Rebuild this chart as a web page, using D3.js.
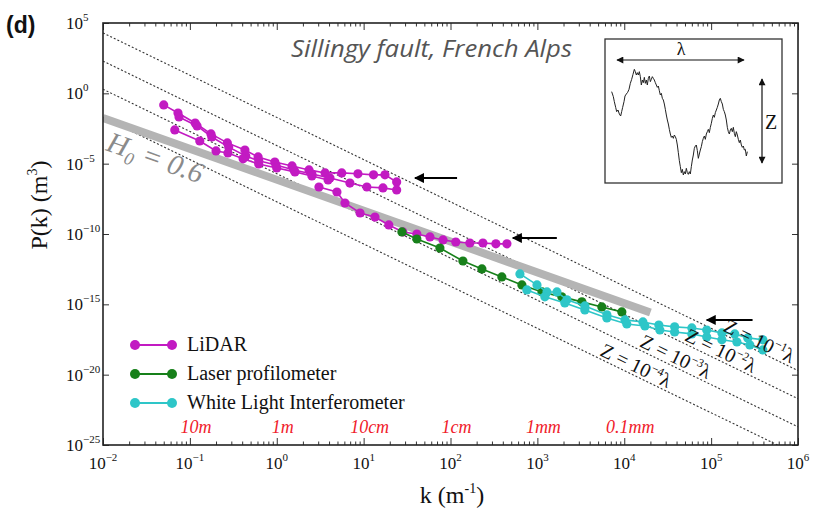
<!DOCTYPE html>
<html><head><meta charset="utf-8">
<script src="https://cdn.jsdelivr.net/npm/d3@7"></script>
<style>body{margin:0;background:#fff} svg{display:block}</style>
</head><body><svg id="c" width="816" height="510"></svg>
<script>
// ---------------- data ----------------
const lidar1K = [0.050, 0.073, 0.115, 0.175, 0.27, 0.43, 0.61, 0.95, 1.5, 2.35, 3.6, 5.6, 8.6, 13, 17.6, 24];
const lidar1P = [0.15, 0.040, 7.8e-3, 1.3e-3, 3.0e-4, 9.4e-5, 3.0e-5, 1.3e-5, 6.9e-6, 3.6e-6, 2.2e-6, 2.2e-6, 1.9e-6, 1.6e-6, 1.6e-6, 5.0e-7];
const lidar2K = [0.075, 0.121, 0.179, 0.28, 0.44, 0.62, 0.98, 1.58, 2.54, 4.1, 6.95, 10.9, 16.7, 24];
const lidar2P = [0.021, 4.8e-3, 7.9e-4, 1.5e-4, 3.5e-5, 1.6e-5, 8.1e-6, 3.6e-6, 1.85e-6, 9.6e-7, 4.2e-7, 2.2e-7, 1.9e-7, 1.35e-7];
const lidar3K = [0.067, 0.13, 0.20, 0.274, 0.41, 0.62, 1.0, 1.62, 2.54, 3.9];
const lidar3P = [2.5e-3, 4.1e-4, 8.0e-5, 5.8e-5, 2.2e-5, 9.5e-6, 4.9e-6, 2.6e-6, 1.34e-6, 6.9e-7];
const lidar4K = [3.06, 4.93, 6.1, 9.1, 13.5, 19.5, 28.3, 41, 58, 82, 115, 167, 236, 333, 446];
const lidar4P = [2.2e-7, 9.7e-8, 1.6e-8, 3.1e-9, 1.6e-9, 4.4e-10, 1.4e-10, 1.0e-10, 6.2e-11, 3.8e-11, 2.7e-11, 2.3e-11, 2.3e-11, 2.0e-11, 2.0e-11];
const laserK = [27.6, 41, 75.5, 139, 230, 390, 664, 1130, 1910, 3250, 5520, 9380];
const laserP = [1.4e-10, 4.4e-11, 1.0e-11, 1.2e-12, 3.3e-13, 8.9e-14, 2.4e-14, 7.6e-15, 3.4e-15, 1.5e-15, 6.5e-16, 2.9e-16];
const wli1K = [630, 990, 1290, 1680, 2190, 3520, 6310, 1.02e4, 1.64e4, 2.5e4, 3.8e4, 6.0e4, 8.9e4, 1.33e5, 1.87e5, 2.64e5, 3.94e5];
const wli1P = [1.45e-13, 2.4e-14, 7.6e-15, 7.6e-15, 2.1e-15, 7.7e-16, 1.8e-16, 7.8e-17, 5.6e-17, 3.4e-17, 2.5e-17, 2.1e-17, 1.5e-17, 9.3e-18, 7.9e-18, 4.1e-18, 3.0e-18];
const wli2K = [757, 1220, 2070, 3520, 6310, 1.07e4, 1.73e4, 2.57e4, 3.8e4, 6.0e4, 8.9e4, 1.33e5, 1.98e5, 2.79e5, 3.94e5];
const wli2P = [1.05e-14, 3.4e-15, 1.26e-15, 4.0e-16, 1.08e-16, 4.0e-17, 2.9e-17, 1.5e-17, 1.09e-17, 7.9e-18, 4.8e-18, 3.0e-18, 2.1e-18, 1.3e-18, 5.7e-19];

// reference lines Z = 10^n lambda  (endpoints k, P)
const zExp = ["\u22121", "\u22122", "\u22123", "\u22124"];
const zLineK = [1e-2, 1e6];
const zLineP0 = [1.95e4, 1.95e2, 1.95, 1.95e-2];      // P at k = 1e-2
const zLineP1 = [1.95e-20, 1.95e-22, 1.95e-24, 1.95e-26]; // P at k = 1e6
const zLabelK = [3.2e5, 1.16e5, 3.5e4, 1.22e4];

// H0 = 0.6 band
const hBandK = [1e-2, 2e4];
const hBandP = [1.78e-2, 2.6e-16];

// arrows (head k, tail k, P)
const arrowHeadK = [39, 522, 8.9e4];
const arrowTailK = [119, 1675, 3.0e5];
const arrowP = [9.5e-7, 5.2e-11, 7.8e-17];

// axes
const xMajor = [1e-2, 1e-1, 1e0, 1e1, 1e2, 1e3, 1e4, 1e5, 1e6];
const xExp = ["\u22122", "\u22121", "0", "1", "2", "3", "4", "5", "6"];
const yMajor = [1e5, 1e0, 1e-5, 1e-10, 1e-15, 1e-20, 1e-25];
const yExp = ["5", "0", "\u22125", "\u221210", "\u221215", "\u221220", "\u221225"];
const lenLabels = ["10m", "1m", "10cm", "1cm", "1mm", "0.1mm"];
const lenK = [1e-1, 1e0, 1e1, 1e2, 1e3, 1e4];

const legendNames = ["LiDAR", "Laser profilometer", "White Light Interferometer"];

// inset profile (arbitrary units: position, depth)
const profT = [65,70,73,77,80,84,88,92,95,98,102,105,109,113,117,121,125,129,133,136,139,142,145,148,151,154,157,160,163,166,169,172,175,178,181,184,187,190,193,196,199,202,205,208,211,214,217,220,223,226,229,232,235,238,241,244,247,250,253,256,259,262,265,268,271,274,277,280,283,286,289,292,295,298,301,304,307,310,313,316,319,322,325,328,331,334,337,340,343,346,349,352,355,358,361,364,367,370,373,376,379,382,385,388,391,394,397,400,403,406,409,412,415,418,421,424,427,430,433,436,439,442,445,448,451,454,457,460,463,466,469,472];
const profD = [185,200,215,232,245,240,252,258,245,232,215,198,192,187,178,160,148,133,118,125,135,128,135,125,140,165,150,158,142,160,150,165,145,138,155,148,140,145,150,158,165,172,168,182,195,190,205,210,222,238,255,270,282,298,312,322,318,325,315,320,328,345,368,392,410,428,418,435,425,432,415,428,433,425,432,410,390,375,355,348,345,362,385,372,360,350,335,325,318,328,312,305,298,308,292,280,265,255,262,248,240,232,222,210,205,215,222,238,245,255,270,292,305,312,300,295,305,292,310,320,305,315,328,338,330,345,352,348,360,358,378,365];

// ---------------- drawing ----------------
const svg = d3.select("#c");
const L = 103, R = 798, T = 23, B = 445;
const x = d3.scaleLog().domain([1e-2, 1e6]).range([L, R]);
const y = d3.scaleLog().domain([1e-25, 1e5]).range([B, T]);
const serif = "'Liberation Serif','Times New Roman',serif";
const C = {lidar: "#c21ac2", laser: "#17801a", wli: "#2ec6c8"};

svg.append("defs").append("clipPath").attr("id", "clip")
  .append("rect").attr("x", L).attr("y", T).attr("width", R - L).attr("height", B - T);
const defs = svg.select("defs");
defs.append("marker").attr("id", "ah").attr("viewBox", "0 0 10 10").attr("refX", 9).attr("refY", 5)
  .attr("markerWidth", 6).attr("markerHeight", 5).attr("orient", "auto-start-reverse").attr("markerUnits", "strokeWidth")
  .append("path").attr("d", "M0,0 L10,5 L0,10 Z").attr("fill", "#000");
defs.append("marker").attr("id", "ahs").attr("viewBox", "0 0 10 10").attr("refX", 9).attr("refY", 5)
  .attr("markerWidth", 8).attr("markerHeight", 7).attr("orient", "auto-start-reverse").attr("markerUnits", "userSpaceOnUse")
  .append("path").attr("d", "M0,0 L10,5 L0,10 Z").attr("fill", "#111");

const plot = svg.append("g").attr("clip-path", "url(#clip)");

// dotted reference lines
zLineP0.forEach((p0, i) => {
  plot.append("line")
    .attr("x1", x(zLineK[0])).attr("y1", y(p0))
    .attr("x2", x(zLineK[1])).attr("y2", y(zLineP1[i]))
    .attr("stroke", "#333").attr("stroke-width", 1.1).attr("stroke-dasharray", "2,2");
});

// H0 band
plot.append("line")
  .attr("x1", x(hBandK[0])).attr("y1", y(hBandP[0]))
  .attr("x2", x(hBandK[1])).attr("y2", y(hBandP[1]))
  .attr("stroke", "#b4b4b4").attr("stroke-width", 8);

// series
const series = [
  {k: lidar1K, p: lidar1P, c: C.lidar},
  {k: lidar2K, p: lidar2P, c: C.lidar},
  {k: lidar3K, p: lidar3P, c: C.lidar},
  {k: lidar4K, p: lidar4P, c: C.lidar},
  {k: laserK, p: laserP, c: C.laser},
  {k: wli1K, p: wli1P, c: C.wli},
  {k: wli2K, p: wli2P, c: C.wli},
];
const line = d3.line().x(d => x(d[0])).y(d => y(d[1]));
series.forEach(s => {
  const pts = s.k.map((k, i) => [k, s.p[i]]);
  plot.append("path").attr("d", line(pts)).attr("fill", "none").attr("stroke", s.c).attr("stroke-width", 1.6);
  plot.selectAll(null).data(pts).enter().append("circle")
    .attr("cx", d => x(d[0])).attr("cy", d => y(d[1])).attr("r", 4.6).attr("fill", s.c);
});

// Z labels
zLabelK.forEach((k, i) => {
  const slope = (Math.log10(zLineP1[i]) - Math.log10(zLineP0[i])) / (Math.log10(zLineK[1]) - Math.log10(zLineK[0]));
  const p = zLineP0[i] * Math.pow(k / zLineK[0], slope);
  const k2 = k * 10, p2 = p * Math.pow(10, slope);
  const ang = Math.atan2(y(p2) - y(p), x(k2) - x(k)) * 180 / Math.PI;
  const t = svg.append("text").attr("transform", `translate(${x(k)},${y(p)}) rotate(${ang})`)
    .attr("y", -3).attr("text-anchor", "middle").attr("font-family", serif).attr("font-size", 20).attr("fill", "#111");
  t.append("tspan").text("Z = 10");
  t.append("tspan").attr("dy", -8).attr("font-size", 12).text(zExp[i]);
  t.append("tspan").attr("dy", 8).text("\u03bb");
});

// H0 label
const hAng = Math.atan2(y(hBandP[1]) - y(hBandP[0]), x(hBandK[1]) - x(hBandK[0])) * 180 / Math.PI;
const ht = svg.append("text").attr("transform", `translate(105,150) rotate(${hAng})`)
  .attr("font-family", serif).attr("font-style", "italic").attr("font-size", 29).attr("fill", "#8a8a8a");
ht.append("tspan").text("H");
ht.append("tspan").attr("dy", 6).attr("font-size", 18).text("0");
ht.append("tspan").attr("dy", -6).text(" = 0.6");

// arrows
arrowP.forEach((p, i) => {
  svg.append("line").attr("x1", x(arrowTailK[i])).attr("y1", y(p))
    .attr("x2", x(arrowHeadK[i])).attr("y2", y(p))
    .attr("stroke", "#000").attr("stroke-width", 2).attr("marker-end", "url(#ah)");
});

// axes ticks
const minorX = [];
for (let e = -2; e < 6; e++) for (let m = 2; m <= 9; m++) minorX.push(m * Math.pow(10, e));
const tickStyle = g => { g.select(".domain").remove(); g.selectAll("line").attr("stroke", "#333").attr("stroke-width", 1); g.selectAll("text").remove(); };
svg.append("g").attr("transform", `translate(0,${B})`).call(d3.axisBottom(x).tickValues(xMajor).tickSize(-7)).call(tickStyle);
svg.append("g").attr("transform", `translate(0,${B})`).call(d3.axisBottom(x).tickValues(minorX).tickSize(-3.5)).call(tickStyle);
svg.append("g").attr("transform", `translate(0,${T})`).call(d3.axisTop(x).tickValues(xMajor).tickSize(-7)).call(tickStyle);
svg.append("g").attr("transform", `translate(0,${T})`).call(d3.axisTop(x).tickValues(minorX).tickSize(-3.5)).call(tickStyle);
svg.append("g").attr("transform", `translate(${L},0)`).call(d3.axisLeft(y).tickValues(yMajor).tickSize(-6)).call(tickStyle);
svg.append("g").attr("transform", `translate(${R},0)`).call(d3.axisRight(y).tickValues(yMajor).tickSize(-6)).call(tickStyle);

// frame
svg.append("rect").attr("x", L).attr("y", T).attr("width", R - L).attr("height", B - T)
  .attr("fill", "none").attr("stroke", "#222").attr("stroke-width", 1.6);

// tick labels
xMajor.forEach((v, i) => {
  const t = svg.append("text").attr("x", x(v)).attr("y", 469).attr("text-anchor", "middle")
    .attr("font-family", serif).attr("font-size", 17).attr("fill", "#111");
  t.append("tspan").text("10");
  t.append("tspan").attr("dy", -8).attr("font-size", 11).text(xExp[i]);
});
yMajor.forEach((v, i) => {
  const t = svg.append("text").attr("x", 66).attr("y", y(v) + 6)
    .attr("font-family", serif).attr("font-size", 17).attr("fill", "#111");
  t.append("tspan").text("10");
  t.append("tspan").attr("dy", -8).attr("font-size", 11).text(yExp[i]);
});

// length labels (red)
lenK.forEach((k, i) => {
  svg.append("text").attr("x", x(k) + 6).attr("y", 433).attr("text-anchor", "middle")
    .attr("font-family", serif).attr("font-style", "italic").attr("font-size", 18).attr("fill", "#f0202a").text(lenLabels[i]);
});

// axis titles
const xt = svg.append("text").attr("x", 452).attr("y", 503).attr("text-anchor", "middle")
  .attr("font-family", serif).attr("font-size", 24).attr("fill", "#111");
xt.append("tspan").text("k (m");
xt.append("tspan").attr("dy", -10).attr("font-size", 14).text("-1");
xt.append("tspan").attr("dy", 10).text(")");
const yt = svg.append("text").attr("transform", "translate(47,205) rotate(-90)").attr("text-anchor", "middle")
  .attr("font-family", serif).attr("font-size", 24).attr("fill", "#111");
yt.append("tspan").text("P(k) (m");
yt.append("tspan").attr("dy", -10).attr("font-size", 14).text("3");
yt.append("tspan").attr("dy", 10).text(")");

// (d)
svg.append("text").attr("x", 6).attr("y", 33).attr("font-family", "'Liberation Sans',Arial,sans-serif")
  .attr("font-weight", "bold").attr("font-size", 23).attr("fill", "#111").text("(d)");

// title
svg.append("text").attr("x", 291).attr("y", 57).attr("font-family", "'Open Sans','Liberation Sans',sans-serif")
  .attr("font-style", "italic").attr("font-size", 23).attr("fill", "#555")
  .attr("textLength", 281).attr("lengthAdjust", "spacingAndGlyphs").text("Sillingy fault, French Alps");

// legend
const legColors = [C.lidar, C.laser, C.wli];
const legY = [345, 374, 403];
legendNames.forEach((n, i) => {
  const g = svg.append("g");
  g.append("line").attr("x1", 135).attr("x2", 172).attr("y1", legY[i]).attr("y2", legY[i]).attr("stroke", legColors[i]).attr("stroke-width", 2);
  g.append("circle").attr("cx", 135).attr("cy", legY[i]).attr("r", 5).attr("fill", legColors[i]);
  g.append("circle").attr("cx", 172).attr("cy", legY[i]).attr("r", 5).attr("fill", legColors[i]);
  g.append("text").attr("x", 187).attr("y", legY[i] + 6).attr("font-family", serif).attr("font-size", 20).attr("fill", "#111").text(n);
});

// inset
const ix = d3.scaleLinear().domain([0, 600]).range([590, 790]);
const iy = d3.scaleLinear().domain([0, 480]).range([30, 190]);
svg.append("rect").attr("x", 605).attr("y", 39).attr("width", 177).attr("height", 144)
  .attr("fill", "#fff").attr("stroke", "#333").attr("stroke-width", 1.3);
svg.append("path").attr("d", d3.line().x(d => ix(d[0])).y(d => iy(d[1]))(profT.map((t, i) => [t, profD[i]])))
  .attr("fill", "none").attr("stroke", "#222").attr("stroke-width", 1);
svg.append("line").attr("x1", 617).attr("x2", 744).attr("y1", 60).attr("y2", 60).attr("stroke", "#111").attr("stroke-width", 1.2)
  .attr("marker-start", "url(#ahs)").attr("marker-end", "url(#ahs)");
svg.append("text").attr("x", 681).attr("y", 55).attr("text-anchor", "middle").attr("font-family", serif).attr("font-size", 18).attr("fill", "#111").text("\u03bb");
svg.append("line").attr("x1", 762).attr("x2", 762).attr("y1", 79).attr("y2", 163).attr("stroke", "#111").attr("stroke-width", 1.2)
  .attr("marker-start", "url(#ahs)").attr("marker-end", "url(#ahs)");
svg.append("text").attr("x", 765).attr("y", 129).attr("font-family", serif).attr("font-size", 20).attr("fill", "#111").text("Z");
</script></body></html>
